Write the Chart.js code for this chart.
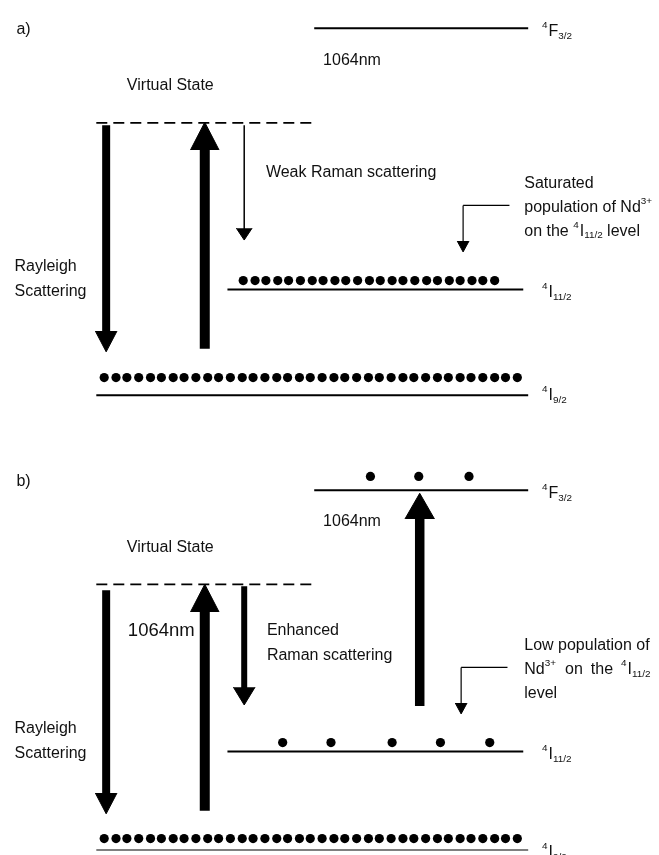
<!DOCTYPE html>
<html><head><meta charset="utf-8">
<script src="https://cdn.jsdelivr.net/npm/chart.js@4/dist/chart.umd.min.js"></script>
<style>html,body{margin:0;padding:0;background:#fff}canvas{display:block}</style>
</head><body>
<canvas id="c" width="659" height="855"></canvas>
<script>
// ---- energy levels (panel a / panel b vertical positions) ----
const levelNames  = ['4F3/2', 'Virtual State', '4I11/2', '4I9/2'];
const levelYA     = [24, 119.5, 288, 395];
const levelYB     = [491, 586, 755, 855];
const levelStartX = [314, 93, 226, 93];
const levelEndX   = [531, 313, 526, 531];

// ---- populations (dot positions) ----
const groundDotsX = [101,113,124,136,148,159,171,182,194,206,217,229,241,252,264,276,287,299,310,322,334,345,357,369,380,392,404,415,427,439,450,462,473,485,497,508,520];
const groundDotsY = [377, 843];
const i11DotsXA   = [242,254,265,277,288,300,312,323,335,346,358,370,381,393,404,416,428,439,451,462,474,485,497];
const i11DotsYA   = 279;
const i11DotsXB   = [282,331,393,442,492];
const i11DotsYB   = 746;
const f32DotsXB   = [371,420,471];
const f32DotsYB   = 477;

// ---- transitions (arrows): x, start, end ----
const arrowNames = ['Rayleigh a','Pump a','Weak Raman a','Pointer a','Rayleigh b','Pump b','Enhanced Raman b','Pump 4F3/2 b','Pointer b'];
const arrowX     = [103, 203, 243, 465, 103, 203, 243, 421, 463];
const arrowFrom  = [122, 348, 122, 203, 592, 815, 588, 709, 670];
const arrowTo    = [351, 119, 238, 250, 818, 586, 708, 494, 717];
// pointer leaders (horizontal part)
const pointerY     = [203, 670];
const pointerEndX  = [512, 510];

// ---- styles ----
const arrowShaftW = [8, 10, 1.5, 1.2, 8, 10, 6, 9.5, 1.2];
const arrowHeadL  = [21, 28, 12, 11, 21, 28, 18, 26, 11];
const arrowHeadHW = [11, 14.5, 8, 6, 11, 14.5, 11, 15, 6];

const black = '#000';
const datasets = [];
function seg(points, width, dash) {
  datasets.push({type:'line', data: points, borderColor: black, borderWidth: width,
    borderDash: dash || [], pointRadius: 0, fill: false, tension: 0, borderCapStyle: 'butt'});
}
function head(x, base, tip, hw) {
  datasets.push({type:'line', data:[{x:x-hw,y:base},{x:x,y:tip},{x:x+hw,y:base}],
    borderColor: black, backgroundColor: black, borderWidth: 1, pointRadius: 0,
    tension: 0, fill: {value: base}});
}
function dots(xs, y) {
  datasets.push({type:'scatter', data: xs.map(x => ({x, y})), pointRadius: 4.6,
    backgroundColor: black, borderWidth: 0, showLine: false});
}

// levels
[levelYA, levelYB].forEach(ys => {
  levelNames.forEach((n, i) => {
    seg([{x: levelStartX[i], y: ys[i]}, {x: levelEndX[i], y: ys[i]}],
        n === 'Virtual State' ? 1.8 : 2, n === 'Virtual State' ? [11, 6] : []);
  });
});
// populations
dots(groundDotsX, groundDotsY[0]);
dots(groundDotsX, groundDotsY[1]);
dots(i11DotsXA, i11DotsYA);
dots(i11DotsXB, i11DotsYB);
dots(f32DotsXB, f32DotsYB);
// arrows
arrowNames.forEach((n, i) => {
  const dir = Math.sign(arrowTo[i] - arrowFrom[i]);
  const base = arrowTo[i] - dir * arrowHeadL[i];
  seg([{x: arrowX[i], y: arrowFrom[i]}, {x: arrowX[i], y: base + dir}], arrowShaftW[i]);
  head(arrowX[i], base, arrowTo[i], arrowHeadHW[i]);
});
// pointer horizontal leaders
seg([{x: arrowX[3], y: pointerY[0]}, {x: pointerEndX[0], y: pointerY[0]}], 1.2);
seg([{x: arrowX[8], y: pointerY[1]}, {x: pointerEndX[1], y: pointerY[1]}], 1.2);

// ---- texts ----
const F = '"Liberation Sans", Arial, Helvetica, sans-serif';
const lvlLabel = (main, sub) => [['4','sup'],[main],[sub,'sub']];
const texts = [
  {x:12,  y:25,  segs:[['a)']]},
  {x:545, y:27,  segs:lvlLabel('F','3/2')},
  {x:323, y:57,  segs:[['1064nm']]},
  {x:124, y:82,  segs:[['Virtual State']]},
  {x:265, y:170, segs:[['Weak Raman scattering']]},
  {x:527, y:181, segs:[['Saturated']]},
  {x:527, y:205, segs:[['population of Nd'],['3+','sup']]},
  {x:527, y:229, segs:[['on the '],['4','sup'],['I'],['11/2','sub'],[' level']]},
  {x:10,  y:265, segs:[['Rayleigh']]},
  {x:10,  y:290, segs:[['Scattering']]},
  {x:545, y:291, segs:lvlLabel('I','11/2')},
  {x:545, y:395, segs:lvlLabel('I','9/2')},

  {x:12,  y:482, segs:[['b)']]},
  {x:545, y:494, segs:lvlLabel('F','3/2')},
  {x:323, y:523, segs:[['1064nm']]},
  {x:124, y:549, segs:[['Virtual State']]},
  {x:125, y:633, size:18.5, segs:[['1064nm']]},
  {x:266, y:633, segs:[['Enhanced']]},
  {x:266, y:658, segs:[['Raman scattering']]},
  {x:527, y:648, segs:[['Low population of']]},
  {x:527, y:672, segs:[['Nd'],['3+','sup'],['8','gap'],['on'],['8','gap'],['the'],['8','gap'],['4','sup'],['I'],['11/2','sub']]},
  {x:527, y:696, segs:[['level']]},
  {x:10,  y:732, segs:[['Rayleigh']]},
  {x:10,  y:757, segs:[['Scattering']]},
  {x:545, y:758, segs:lvlLabel('I','11/2')},
  {x:545, y:857, segs:lvlLabel('I','9/2')}
];

const textPlugin = {
  id: 'texts',
  afterDatasetsDraw(chart) {
    const ctx = chart.ctx, xs = chart.scales.x, ys = chart.scales.y;
    ctx.save();
    ctx.fillStyle = '#111';
    ctx.textBaseline = 'middle';
    ctx.textAlign = 'left';
    for (const L of texts) {
      let px = xs.getPixelForValue(L.x);
      const py = ys.getPixelForValue(L.y);
      const size = L.size || 16;
      for (const [t, kind] of L.segs) {
        if (kind === 'gap') { px += Number(t); continue; }
        let fs = size, dy = 0;
        if (kind === 'sup') { fs = size * 0.62; dy = -size * 0.36; }
        else if (kind === 'sub') { fs = size * 0.62; dy = size * 0.28; }
        ctx.font = fs + 'px ' + F;
        ctx.fillText(t, px, py + dy);
        px += ctx.measureText(t).width + (kind === 'sup' ? 1 : 0);
      }
    }
    ctx.restore();
  }
};

new Chart(document.getElementById('c'), {
  type: 'scatter',
  data: { datasets },
  options: {
    responsive: false,
    animation: false,
    events: [],
    layout: { padding: 0 },
    plugins: { legend: { display: false }, tooltip: { enabled: false } },
    scales: {
      x: { type: 'linear', min: 0, max: 659, display: false },
      y: { type: 'linear', min: 0, max: 855, reverse: true, display: false }
    }
  },
  plugins: [textPlugin]
});
</script>
</body></html>
